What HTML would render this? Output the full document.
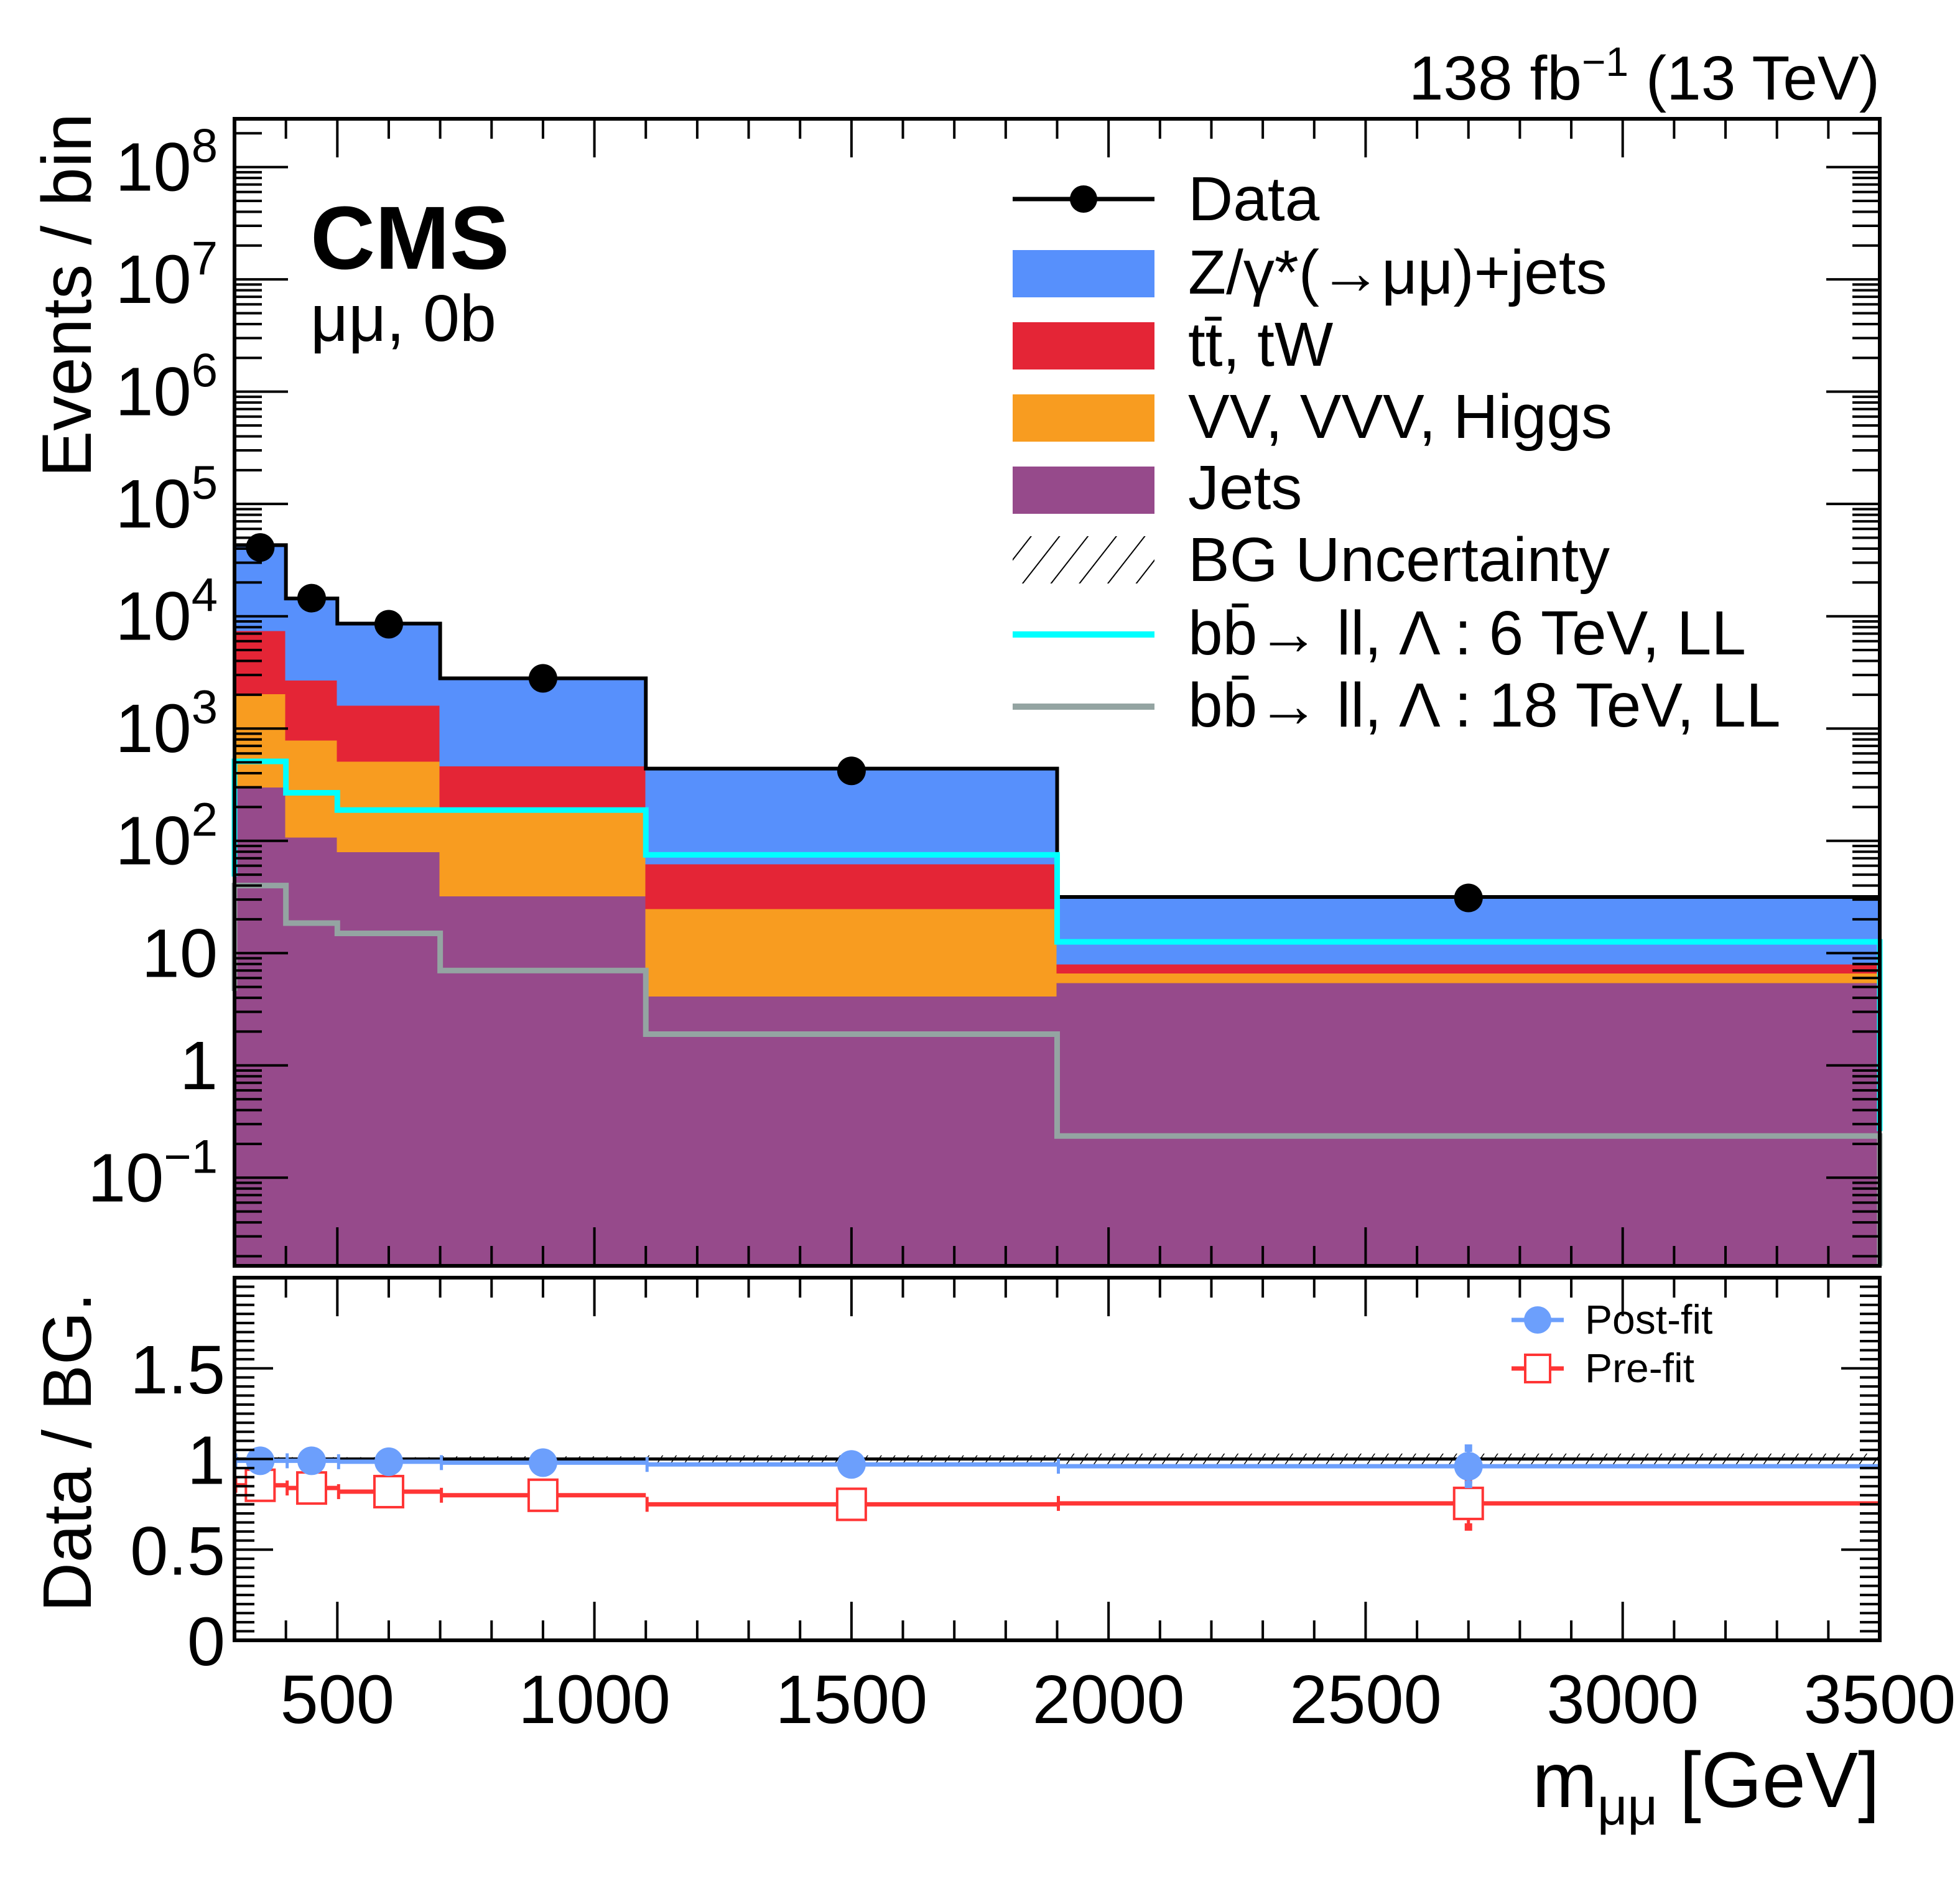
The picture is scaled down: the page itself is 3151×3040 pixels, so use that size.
<!DOCTYPE html>
<html><head><meta charset="utf-8"><style>
html,body{margin:0;padding:0;background:#fff}
svg{display:block;font-family:"Liberation Sans",sans-serif}
</style></head><body>
<svg id="chart" width="3151" height="3040" viewBox="0 0 3151 3040" xmlns="http://www.w3.org/2000/svg">
<defs>
<pattern id="hatch" patternUnits="userSpaceOnUse" width="18" height="18" patternTransform="rotate(35)">
<line x1="0" y1="0" x2="0" y2="18" stroke="#000" stroke-width="3"/>
</pattern>
<pattern id="hatch2" patternUnits="userSpaceOnUse" width="36" height="36" patternTransform="rotate(38)">
<line x1="0" y1="0" x2="0" y2="36" stroke="#000" stroke-width="4"/>
</pattern>
</defs>
<g id="main"></g>
<g id="ratio"></g>
<g id="labels">
<text x="3022" y="160" font-size="100" text-anchor="end">138 fb<tspan dy="-38" font-size="66">−1</tspan><tspan dy="38"> (13 TeV)</tspan></text>
<text x="499" y="432" font-size="144" font-weight="bold">CMS</text>
<text x="499" y="548" font-size="106">μμ, 0b</text>
<text transform="translate(146,182) rotate(-90)" font-size="112" text-anchor="end">Events / bin</text>
<text transform="translate(146,2078) rotate(-90)" font-size="110" text-anchor="end">Data / BG.</text>
<text x="3022" y="2905" font-size="126" text-anchor="end">m<tspan dy="28" font-size="84">μμ</tspan><tspan dy="-28"> [GeV]</tspan></text>
</g>
<g id="legend">
<g><line x1="1628" y1="320" x2="1856" y2="320" stroke="#000" stroke-width="7"/><circle cx="1742" cy="320" r="22"/><text x="1910" y="354" font-size="100">Data</text></g>
<g><rect x="1628" y="402" width="228" height="76" fill="#5790fc"/><text x="1910" y="472" font-size="100">Z/γ*(→μμ)+jets</text></g>
<g><rect x="1628" y="518" width="228" height="76" fill="#e42536"/><text x="1910" y="588" font-size="100">tt̄, tW</text></g>
<g><rect x="1628" y="634" width="228" height="76" fill="#f89c20"/><text x="1910" y="704" font-size="100">VV, VVV, Higgs</text></g>
<g><rect x="1628" y="750" width="228" height="76" fill="#964a8b"/><text x="1910" y="818" font-size="100">Jets</text></g>
<g><rect x="1628" y="862" width="228" height="76" fill="url(#hatch2)"/><text x="1910" y="934" font-size="100">BG Uncertainty</text></g>
<g><line x1="1628" y1="1020" x2="1856" y2="1020" stroke="#00ffff" stroke-width="10"/><text x="1910" y="1052" font-size="100">bb̄→ ll,   Λ : 6 TeV, LL</text></g>
<g><line x1="1628" y1="1136" x2="1856" y2="1136" stroke="#94a4a2" stroke-width="10"/><text x="1910" y="1168" font-size="100">bb̄→ ll,   Λ : 18 TeV, LL</text></g>
<g><line x1="2430" y1="2122" x2="2514" y2="2122" stroke="#6c9ffc" stroke-width="7"/><circle cx="2472" cy="2122" r="22" fill="#6c9ffc"/><text x="2548" y="2144" font-size="66">Post-fit</text></g>
<g><line x1="2430" y1="2200" x2="2514" y2="2200" stroke="#ff3535" stroke-width="7"/><rect x="2452" y="2178" width="40" height="44" fill="#fff" stroke="#ff3535" stroke-width="4"/><text x="2548" y="2222" font-size="66">Pre-fit</text></g>
</g>
</svg>
<script>
const binEdges=[300,400,500,700,1100,1900,3500];
const jets=[298,107,79,32,4.1,5.4];
const vv=[1720,676,429,156,20.5,1.2];
const ttbar=[5380,1890,1090,272,37,1.3];
const dy=[35600,11730,7000,2340,378,23.7];
const dataX=[350,450,600,900,1500,2700];
const dataY=[41000,14500,8500,2800,420,31];
const sig6=[510,268,188,188,75,12.6];
const sig18=[40,18.5,15,7,1.9,0.235];
const postfit=[0.99,0.99,0.985,0.98,0.97,0.96];
const prefit=[0.855,0.84,0.82,0.80,0.75,0.755];
const ratioUnc=[0.01,0.01,0.01,0.015,0.02,0.03];
const xTicks=[500,1000,1500,2000,2500,3000,3500];
const yDecades=[-1,0,1,2,3,4,5,6,7,8];
const yDecadeLabels=["10^-1","1","10","10^2","10^3","10^4","10^5","10^6","10^7","10^8"];
const ratioTicks=[0,0.5,1,1.5];
const ratioTickLabels=["0","0.5","1","1.5"];

const NS="http://www.w3.org/2000/svg";
const L=377,R=3022,T=191,B=2035,RT=2054,RB=2637;
const xMin=300,xMax=3500,logMin=-1.785,logMax=8.43;
const X=v=>L+(v-xMin)/(xMax-xMin)*(R-L);
const Y=v=>B-(Math.log10(v)-logMin)/(logMax-logMin)*(B-T);
const RY=v=>RB-v/2.0*(RB-RT);
function mk(tag,attrs,parent){const e=document.createElementNS(NS,tag);for(const k in attrs)e.setAttribute(k,attrs[k]);parent.appendChild(e);return e;}
const main=document.getElementById('main'),ratio=document.getElementById('ratio');

for(let i=0;i<6;i++){
  let cum=[jets[i],jets[i]+vv[i],jets[i]+vv[i]+ttbar[i],jets[i]+vv[i]+ttbar[i]+dy[i]];
  const cols=['#964a8b','#f89c20','#e42536','#5790fc'];
  const names=['bar-jets','bar-vv','bar-ttbar','bar-dy'];
  for(let k=3;k>=0;k--){
    const top=Y(cum[k]);
    const r=mk('rect',{x:X(binEdges[i])-1,y:top,width:X(binEdges[i+1])-X(binEdges[i])+2,height:B-top,fill:cols[k],'shape-rendering':'crispEdges'},main);
    
    
  }
}
let d='';
for(let i=0;i<6;i++){const t=jets[i]+vv[i]+ttbar[i]+dy[i];d+=(i? 'L':'M')+X(binEdges[i])+' '+Y(t)+' L'+X(binEdges[i+1])+' '+Y(t)+' ';}
const tot=mk('path',{d:d,fill:'none',stroke:'#000','stroke-width':6},main);


function stepPath(vals,leftEnd,rightEnd){let p='M'+X(binEdges[0])+' '+leftEnd;for(let i=0;i<6;i++){p+=' L'+X(binEdges[i])+' '+Y(vals[i])+' L'+X(binEdges[i+1])+' '+Y(vals[i]);}p+=' L'+X(binEdges[6])+' '+rightEnd;return p;}
const s6=mk('path',{d:stepPath(sig6,Y(48),Y(0.26)),fill:'none',stroke:'#00ffff','stroke-width':9},main);


const s18=mk('path',{d:stepPath(sig18,Y(4.6),B),fill:'none',stroke:'#94a4a2','stroke-width':9},main);


for(let i=0;i<6;i++){
  const c=mk('circle',{cx:X(dataX[i]),cy:Y(dataY[i]),r:23,fill:'#000'},main);
  
  
}
mk('rect',{x:L,y:T,width:R-L,height:B-T,fill:'none',stroke:'#000','stroke-width':6},main);
function xTicksFor(top,bot,g){
  for(let v=300;v<=3500;v+=100){
    const major=v%500===0, len=major?62:32;
    mk('line',{x1:X(v),y1:top,x2:X(v),y2:top+len,stroke:'#000','stroke-width':4},g);
    mk('line',{x1:X(v),y1:bot,x2:X(v),y2:bot-len,stroke:'#000','stroke-width':4},g);
  }
}
xTicksFor(T,B,main);
for(let dec=-2;dec<=8;dec++){
  for(let m=1;m<10;m++){
    const v=m*Math.pow(10,dec);const y=Y(v);
    if(y<T||y>B)continue;
    const len=m===1?86:44;
    mk('line',{x1:L,y1:y,x2:L+len,y2:y,stroke:'#000','stroke-width':4},main);
    mk('line',{x1:R,y1:y,x2:R-len,y2:y,stroke:'#000','stroke-width':4},main);
  }
}
yDecades.forEach((dec,i)=>{
  const lab=yDecadeLabels[i];const y=Y(Math.pow(10,dec))+38;
  const t=mk('text',{x:350,y:y,'font-size':110,'text-anchor':'end'},main);
  
  
  if(lab.indexOf('^')>=0){const p=lab.split('^');t.textContent=p[0];const s=mk('tspan',{dy:-46,'font-size':76},t);s.textContent=p[1].replace('-','−');}
  else t.textContent=lab;
});
for(let i=0;i<6;i++){
  const h=mk('rect',{x:X(binEdges[i]),y:RY(1+ratioUnc[i]),width:X(binEdges[i+1])-X(binEdges[i]),height:RY(1-ratioUnc[i])-RY(1+ratioUnc[i]),fill:'url(#hatch)'},ratio);
  
  
}
mk('line',{x1:L,y1:RY(1),x2:R,y2:RY(1),stroke:'#000','stroke-width':5},ratio);
function ratioSeries(vals,col,kind,name){
  for(let i=0;i<6;i++){
    const y=RY(vals[i]);
    const ln=mk('line',{x1:X(binEdges[i]),y1:y,x2:X(binEdges[i+1]),y2:y,stroke:col,'stroke-width':7},ratio);
    
    
    mk('line',{x1:X(binEdges[i])+2,y1:y-12,x2:X(binEdges[i])+2,y2:y+12,stroke:col,'stroke-width':5},ratio);
    if(i===5){
      const e=kind==='c'?0.1:0.13;
      mk('line',{x1:X(dataX[i]),y1:RY(vals[i]+e),x2:X(dataX[i]),y2:RY(vals[i]-e),stroke:col,'stroke-width':5},ratio);
      mk('rect',{x:X(dataX[i])-6,y:RY(vals[i]+e)-6,width:12,height:12,fill:col},ratio);
      mk('rect',{x:X(dataX[i])-6,y:RY(vals[i]-e)-6,width:12,height:12,fill:col},ratio);
    }
    let m;
    if(kind==='c'){m=mk('circle',{cx:X(dataX[i]),cy:y,r:23,fill:col},ratio);}
    else{m=mk('rect',{x:X(dataX[i])-23,y:y-25,width:46,height:50,fill:'#fff',stroke:col,'stroke-width':4},ratio);}
    
    
  }
}
ratioSeries(prefit,'#ff3535','s','prefit');
ratioSeries(postfit,'#6c9ffc','c','postfit');
mk('rect',{x:L,y:RT,width:R-L,height:RB-RT,fill:'none',stroke:'#000','stroke-width':6},ratio);
xTicksFor(RT,RB,ratio);
for(let k=0;k<=40;k++){
  const v=k*0.05;const y=RY(v);if(y<RT)continue;
  const len=k%10===0?62:32;
  mk('line',{x1:L,y1:y,x2:L+len,y2:y,stroke:'#000','stroke-width':4},ratio);
  mk('line',{x1:R,y1:y,x2:R-len,y2:y,stroke:'#000','stroke-width':4},ratio);
}
ratioTicks.forEach((v,i)=>{
  const t=mk('text',{x:362,y:RY(v)+40,'font-size':110,'text-anchor':'end'},ratio);
  t.textContent=ratioTickLabels[i];
  
  
});
xTicks.forEach(v=>{
  const t=mk('text',{x:X(v),y:2770,'font-size':110,'text-anchor':'middle'},ratio);
  t.textContent=String(v);
  
  
});
</script>
</body></html>
